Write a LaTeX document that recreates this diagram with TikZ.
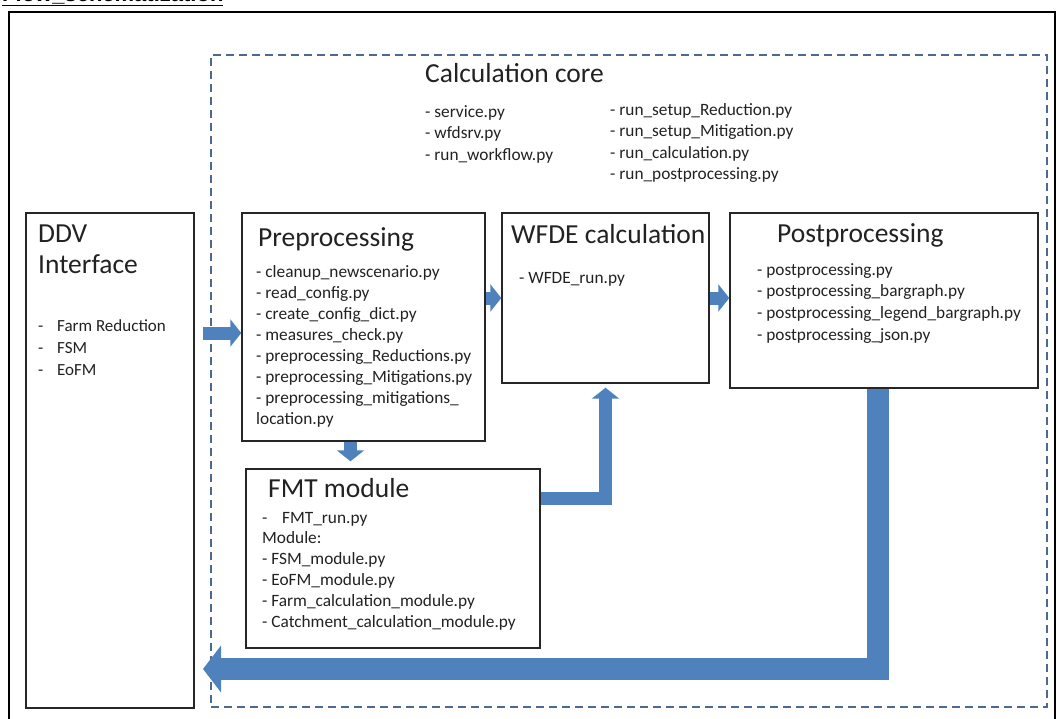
\documentclass[tikz,border=0pt]{standalone}
\usepackage{fontspec}
\setmainfont{Carlito}
\newfontfamily\headfont{Liberation Sans}
\usetikzlibrary{arrows.meta}

\definecolor{flowblue}{HTML}{4F81BD}
\definecolor{coreline}{HTML}{4A6A92}
\definecolor{textdark}{HTML}{222222}

\tikzset{
    box/.style={draw=black!85, line width=1.4pt, inner sep=0pt, fill=white},
    corebox/.style={draw=coreline, line width=1.1pt, dash pattern=on 8pt off 5pt, inner sep=0pt},
    title/.style={anchor=north west, inner sep=0pt, align=left, text=textdark,
        font=\fontsize{27.5}{31}\selectfont},
    files/.style={anchor=north west, inner sep=0pt, align=left, text=textdark,
        font=\fontsize{17.3}{21}\selectfont},
    flow/.style={draw=flowblue, line width=13pt, line join=miter,
        -{Triangle[length=11pt,width=27pt]}},
    bigflow/.style={draw=flowblue, line width=22pt, line join=miter,
        -{Triangle[length=18pt,width=46pt]}}
}

\begin{document}
\begin{tikzpicture}[x=1pt, y=-1pt]

        \useasboundingbox (0,0) rectangle (1058,718);
        \clip (0,0) rectangle (1058,718);

        % page heading and frame
        \node [anchor=base west, inner sep=0pt, font=\headfont\bfseries\fontsize{22}{26}\selectfont] (heading) at (2, 1) {\underline{Flow\_schematization}};
        \draw [line width=2pt] (8.5, 740) -- (8.5, 11.5) -- (1055, 11.5) -- (1055, 740);

        % calculation core
        \node [corebox, minimum width=836pt, minimum height=652pt] (core) at (629, 381) {};
        \node [title] (coretitle) at (425, 60.3) {\strut Calculation core};
        \node [files, font=\fontsize{17.3}{21.5}\selectfont] (corelist1) at (425, 102) {\strut - service.py\\- wfdsrv.py\\- run\_workflow.py};
        \node [files, font=\fontsize{17.3}{21.5}\selectfont] (corelist2) at (610, 100) {\strut - run\_setup\_Reduction.py\\- run\_setup\_Mitigation.py\\- run\_calculation.py\\- run\_postprocessing.py};

        % boxes
        \node [box, minimum width=168pt, minimum height=495pt] (ddv) at (110, 460.5) {};
        \node [box, minimum width=243pt, minimum height=228pt] (prep) at (363.5, 327) {};
        \node [box, minimum width=207pt, minimum height=170pt] (wfde) at (605.5, 298) {};
        \node [box, minimum width=308pt, minimum height=175pt] (post) at (884, 300.5) {};
        \node [box, minimum width=294pt, minimum height=179pt] (fmt) at (393, 558.5) {};

        % box texts
        \node [title] (ddvtitle) at (38, 220.3) {\strut DDV\\Interface};
        \node [files, font=\fontsize{17}{22}\selectfont] (ddvlist) at (38, 315.6) {\strut\makebox[19pt][l]{-}Farm Reduction\\\makebox[19pt][l]{-}FSM\\\makebox[19pt][l]{-}EoFM};

        \node [title] (preptitle) at (258, 224.3) {\strut Preprocessing};
        \node [files] (preplist) at (256, 262.3) {\strut - cleanup\_newscenario.py\\- read\_config.py\\- create\_config\_dict.py\\- measures\_check.py\\- preprocessing\_Reductions.py\\- preprocessing\_Mitigations.py\\- preprocessing\_mitigations\_\\location.py};

        \node [title] (wfdetitle) at (511, 221.3) {\strut WFDE calculation};
        \node [files] (wfdelist) at (519, 268.3) {\strut - WFDE\_run.py};

        \node [title] (posttitle) at (777, 220.3) {\strut Postprocessing};
        \node [files, font=\fontsize{17.3}{21.7}\selectfont] (postlist) at (757, 259.8) {\strut - postprocessing.py\\- postprocessing\_bargraph.py\\- postprocessing\_legend\_bargraph.py\\- postprocessing\_json.py};

        \node [title] (fmttitle) at (268, 475.3) {\strut FMT module};
        \node [files, font=\fontsize{17.3}{20.8}\selectfont] (fmtlist) at (262, 508.4) {\strut\makebox[20pt][l]{-}FMT\_run.py\\Module:\\- FSM\_module.py\\- EoFM\_module.py\\- Farm\_calculation\_module.py\\- Catchment\_calculation\_module.py};

        % arrows
        \coordinate (ddvout) at (203, 333);
        \coordinate (ddvback) at (203, 669);

        \draw [flow] (ddvout) -- (ddvout -| prep.west);
        \draw [flow] (prep.east |- wfde.west) -- (wfde.west);
        \draw [flow] (wfde.east) -- (wfde.east -| post.west);
        \draw [flow, shorten >=7pt] ([xshift=-13pt]prep.south) -- ([xshift=-13pt]prep.south |- fmt.north);
        \draw [flow, shorten >=4pt] ([yshift=60pt]fmt.east) -| (wfde.south);

        % back to the interface
        \draw [bigflow] ([xshift=-6pt]post.south) |- (ddvback);
    \end{tikzpicture}
\end{document}
